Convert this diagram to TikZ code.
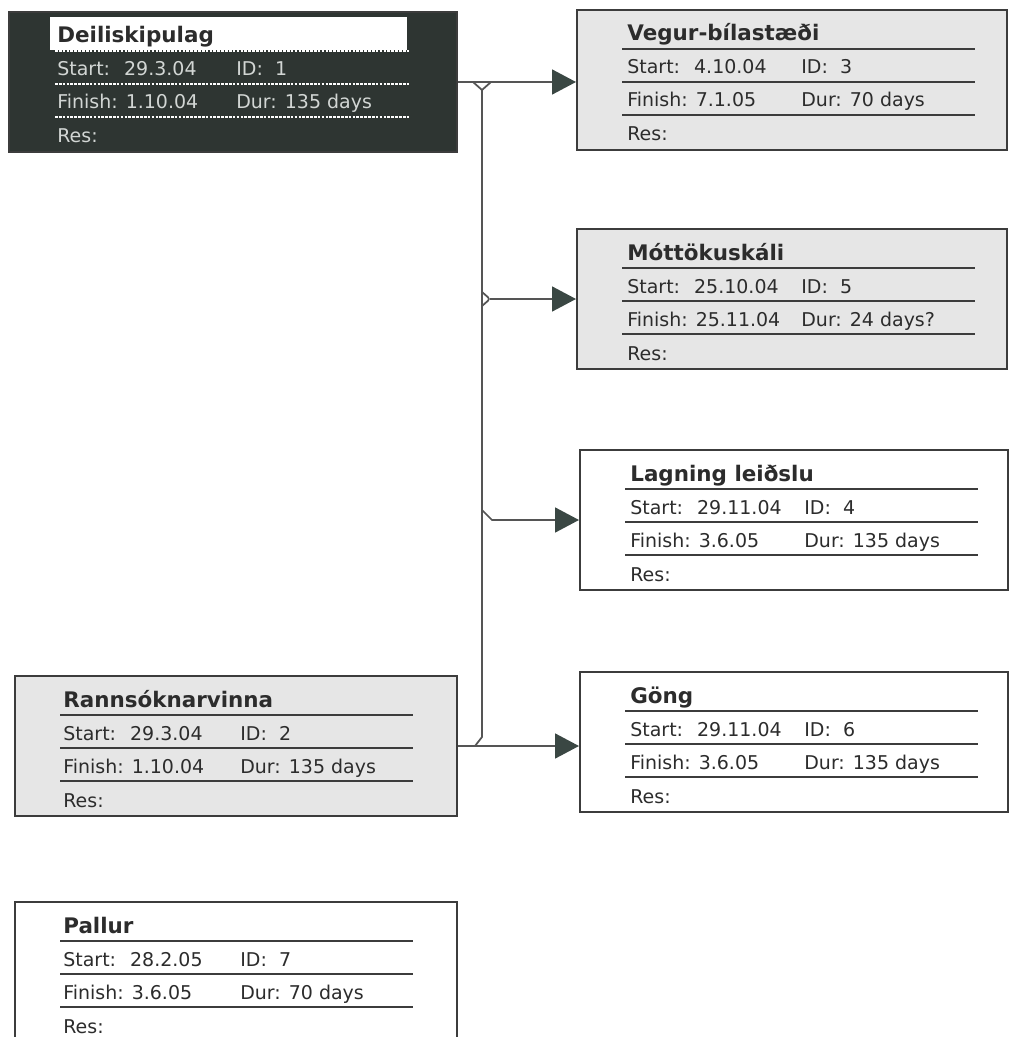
\documentclass[tikz,border=0pt]{standalone}
\usepackage{fontspec}
\setmainfont{DejaVu Sans}
\usetikzlibrary{arrows.meta,calc}
\definecolor{boxgray}{HTML}{E6E6E6}
\definecolor{boxdark}{HTML}{2E3532}
\definecolor{boxline}{HTML}{3C3C3C}
\definecolor{linkc}{HTML}{555555}
\definecolor{tipc}{HTML}{3A4743}
\definecolor{textc}{HTML}{2C2C2C}
\definecolor{textlight}{HTML}{D2D6D4}
\begin{document}
\begin{tikzpicture}[x=0.02cm,y=-0.02cm,
    taskbox/.style={draw=boxline,line width=1.2pt,minimum height=2.8cm,inner sep=0pt},
    title/.style={anchor=base west,inner sep=0pt,text=textc,font=\fontsize{12.2}{14}\selectfont\bfseries},
    rowtext/.style={anchor=base west,inner sep=0pt,text=textc,font=\fontsize{10.8}{13}\selectfont},
    rowline/.style={draw=boxline,line width=1pt},
    link/.style={draw=linkc,line width=1pt},
    flow/.style={link,-{Triangle[length=0.48cm,width=0.5cm,color=tipc]}}]
    % page frame
    \useasboundingbox (0,0) rectangle (1010,1037);
    \clip (0,0) rectangle (1010,1037);

    % Deiliskipulag (dark)
    \node[taskbox,fill=boxdark,minimum width=8.96cm] (deili) at (233,82) {};
    \fill[white] (50,17) rectangle (407,50);
    \node[title] at (57,43) {Deiliskipulag};
    \draw[white,line width=1pt,dash pattern=on 1.5pt off 0.7pt] (55,51) -- (410,51);
    \node[rowtext,text=textlight] at (57,76) {Start:~ 29.3.04};
    \node[rowtext,text=textlight] at (236,76) {ID:~ 1};
    \draw[white,line width=1pt,dash pattern=on 1.5pt off 0.7pt] (55,84) -- (410,84);
    \node[rowtext,text=textlight] at (57,109) {Finish: 1.10.04};
    \node[rowtext,text=textlight] at (236,109) {Dur: 135 days};
    \draw[white,line width=1pt,dash pattern=on 1.5pt off 0.7pt] (55,117) -- (410,117);
    \node[rowtext,text=textlight] at (57,143) {Res:};

    % Vegur-bilastaedi
    \node[taskbox,fill=boxgray,minimum width=8.6cm] (vegur) at (792,80) {};
    \node[title] at (627,41) {Vegur-bílastæði};
    \draw[rowline] (622,49) -- (975,49);
    \node[rowtext] at (627,74) {Start:~ 4.10.04};
    \node[rowtext] at (801,74) {ID:~ 3};
    \draw[rowline] (622,82) -- (975,82);
    \node[rowtext] at (627,107) {Finish: 7.1.05};
    \node[rowtext] at (801,107) {Dur: 70 days};
    \draw[rowline] (622,115) -- (975,115);
    \node[rowtext] at (627,141) {Res:};

    % Mottokuskali
    \node[taskbox,fill=boxgray,minimum width=8.6cm] (motto) at (792,299) {};
    \node[title] at (627,260) {Móttökuskáli};
    \draw[rowline] (622,268) -- (975,268);
    \node[rowtext] at (627,293) {Start:~ 25.10.04};
    \node[rowtext] at (801,293) {ID:~ 5};
    \draw[rowline] (622,301) -- (975,301);
    \node[rowtext] at (627,326) {Finish: 25.11.04};
    \node[rowtext] at (801,326) {Dur: 24 days?};
    \draw[rowline] (622,334) -- (975,334);
    \node[rowtext] at (627,360) {Res:};

    % Lagning leidslu
    \node[taskbox,fill=white,minimum width=8.56cm] (lagning) at (794,520) {};
    \node[title] at (630,481) {Lagning leiðslu};
    \draw[rowline] (625,489) -- (978,489);
    \node[rowtext] at (630,514) {Start:~ 29.11.04};
    \node[rowtext] at (804,514) {ID:~ 4};
    \draw[rowline] (625,522) -- (978,522);
    \node[rowtext] at (630,547) {Finish: 3.6.05};
    \node[rowtext] at (804,547) {Dur: 135 days};
    \draw[rowline] (625,555) -- (978,555);
    \node[rowtext] at (630,581) {Res:};

    % Gong
    \node[taskbox,fill=white,minimum width=8.56cm] (gong) at (794,742) {};
    \node[title] at (630,703) {Göng};
    \draw[rowline] (625,711) -- (978,711);
    \node[rowtext] at (630,736) {Start:~ 29.11.04};
    \node[rowtext] at (804,736) {ID:~ 6};
    \draw[rowline] (625,744) -- (978,744);
    \node[rowtext] at (630,769) {Finish: 3.6.05};
    \node[rowtext] at (804,769) {Dur: 135 days};
    \draw[rowline] (625,777) -- (978,777);
    \node[rowtext] at (630,803) {Res:};

    % Rannsoknarvinna
    \node[taskbox,fill=boxgray,minimum width=8.84cm] (rann) at (236,746) {};
    \node[title] at (63,707) {Rannsóknarvinna};
    \draw[rowline] (60,715) -- (413,715);
    \node[rowtext] at (63,740) {Start:~ 29.3.04};
    \node[rowtext] at (240,740) {ID:~ 2};
    \draw[rowline] (60,748) -- (413,748);
    \node[rowtext] at (63,773) {Finish: 1.10.04};
    \node[rowtext] at (240,773) {Dur: 135 days};
    \draw[rowline] (60,781) -- (413,781);
    \node[rowtext] at (63,807) {Res:};

    % Pallur
    \node[taskbox,fill=white,minimum width=8.84cm] (pallur) at (236,972) {};
    \node[title] at (63,933) {Pallur};
    \draw[rowline] (60,941) -- (413,941);
    \node[rowtext] at (63,966) {Start:~ 28.2.05};
    \node[rowtext] at (240,966) {ID:~ 7};
    \draw[rowline] (60,974) -- (413,974);
    \node[rowtext] at (63,999) {Finish: 3.6.05};
    \node[rowtext] at (240,999) {Dur: 70 days};
    \draw[rowline] (60,1007) -- (413,1007);
    \node[rowtext] at (63,1033) {Res:};

    % links
    \coordinate (trunk) at (482,0);
    \draw[flow] (deili.east) -- (deili.east -| vegur.west);
    \draw[link] ($(trunk |- deili.east)+(-9,0)$) -- ($(trunk |- deili.east)+(0,8)$) -- ($(trunk |- deili.east)+(9,0)$);
    \draw[link] ($(trunk |- deili.east)+(0,8)$) -- ($(trunk |- rann.east)+(0,-9)$) -- ($(trunk |- rann.east)+(-7,0)$);
    \draw[link,rounded corners=1.5pt] ($(trunk |- motto.west)+(0,-7)$) -- ($(trunk |- motto.west)+(8,0)$) -- ($(trunk |- motto.west)+(0,7)$);
    \draw[flow] ($(trunk |- motto.west)+(8,0)$) -- (motto.west);
    \draw[flow] ($(trunk |- lagning.west)+(0,-10)$) -- ($(trunk |- lagning.west)+(10,0)$) -- (lagning.west);
    \draw[flow] (rann.east) -- (rann.east -| gong.west);
\end{tikzpicture}
\end{document}
